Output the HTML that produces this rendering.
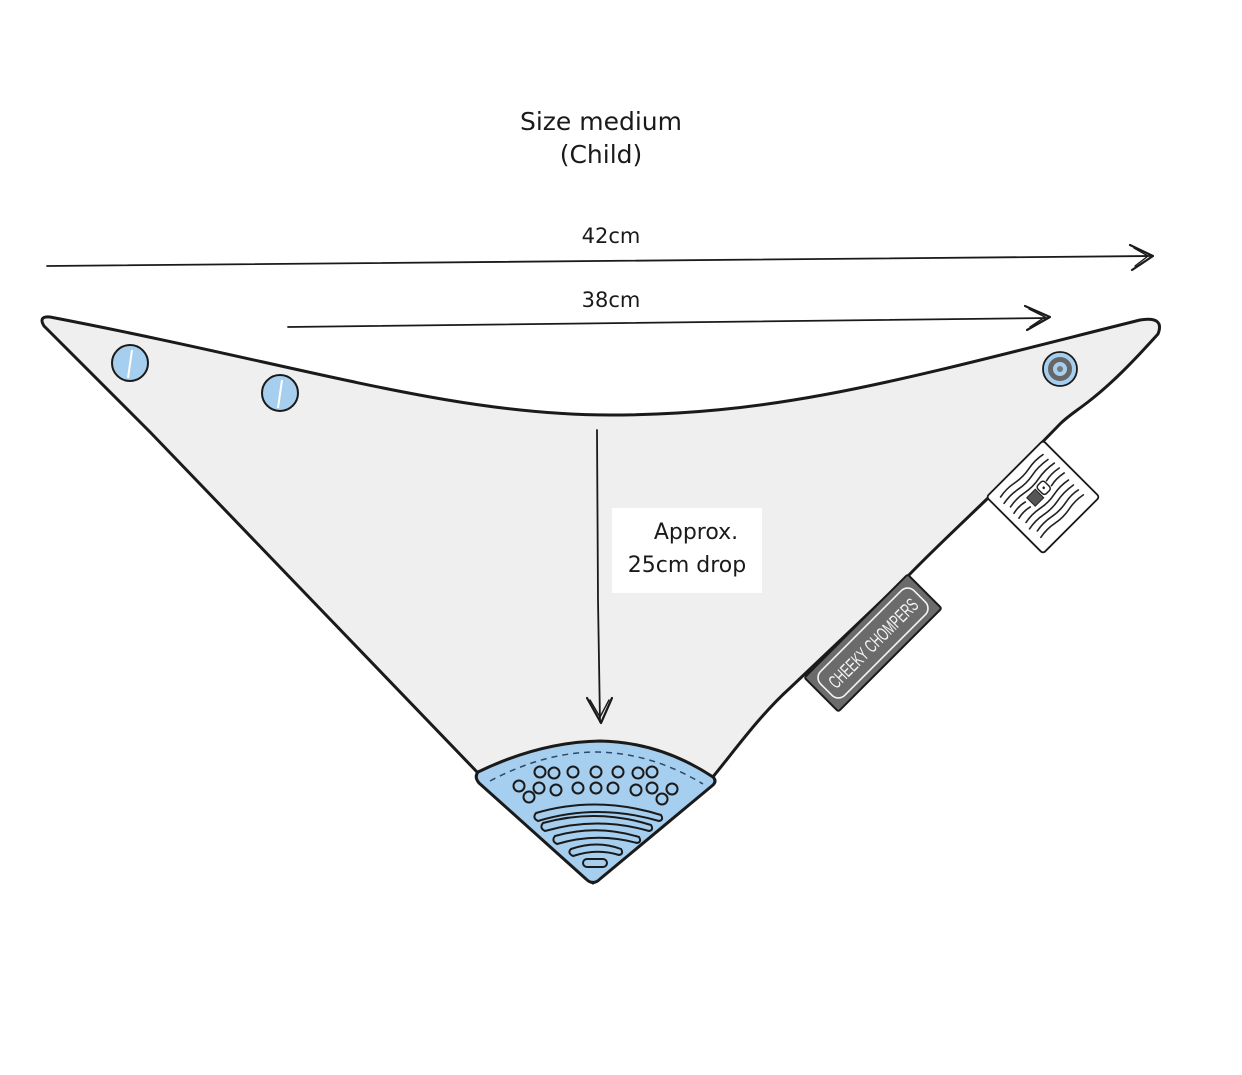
<!DOCTYPE html>
<html><head><meta charset="utf-8"><style>
html,body{margin:0;padding:0;background:#fff;}
svg{display:block;}
text{font-family:"DejaVu Sans","Liberation Sans",sans-serif;fill:#1a1a1a;}
</style></head><body>
<svg width="1242" height="1075" viewBox="0 0 1242 1075" xmlns="http://www.w3.org/2000/svg">
<rect width="1242" height="1075" fill="#fff"/>

<!-- Bib body -->
<path d="M 50,317 C 300,365 450,415 610,415 C 780,415 900,380 1140,320 Q 1165,316 1158,334 C 1130,365 1110,385 1088,402 C 1075,412 1068,416 1060,424 L 987,499 C 960,525 930,553 907,577 L 790,688 C 760,715 735,750 712,778 L 593,883 L 478,773 C 360,650 250,535 150,432 L 44,326 Q 38,316 50,317 Z"
 fill="#efefef" stroke="#1a1a1a" stroke-width="3" stroke-linejoin="round"/>

<!-- Care label -->
<g transform="translate(1043,497) rotate(-45)">
 <rect x="-40" y="-40" width="80" height="80" rx="3" fill="#fff" stroke="#1a1a1a" stroke-width="1.8"/>
 <g stroke="#222" stroke-width="1.6" fill="none" stroke-linecap="round">
  <path d="M -30,-30 q 10,-2 20,0 t 20,0 t 20,0"/>
  <path d="M -32,-23 q 10,-2 20,0 t 20,0 t 22,0"/>
  <path d="M -30,-16 q 10,-2 20,0 t 20,0 t 22,0"/>
  <path d="M -32,-9 q 8,-2 16,0"/>
  <path d="M 14,-9 q 8,-2 18,0"/>
  <path d="M -32,-2 q 8,-2 16,0"/>
  <path d="M 14,-2 q 8,-2 18,0"/>
  <path d="M -30,6 q 10,-2 20,0 t 20,0 t 20,0"/>
  <path d="M -32,13 q 10,-2 20,0 t 20,0 t 22,0"/>
  <path d="M -28,20 q 10,-2 20,0 t 20,0 t 18,0"/>
  <path d="M -30,27 q 10,-2 20,0 t 20,0 t 20,0"/>
 </g>
 <rect x="-12" y="-11" width="12" height="12" fill="#555" stroke="#222" stroke-width="1"/>
 <rect x="2" y="-12" width="10" height="12" rx="3" fill="#fff" stroke="#222" stroke-width="1.5"/>
 <circle cx="7" cy="-6" r="1.3" fill="#222"/>
</g>

<!-- Cheeky Chompers label -->
<g transform="translate(873,643) rotate(-45)">
 <rect x="-73" y="-24" width="146" height="48" rx="2" fill="#6b6b6b" stroke="#1a1a1a" stroke-width="2"/>
 <rect x="-66" y="-17" width="132" height="34" rx="9" fill="none" stroke="#f4f4f4" stroke-width="1.6"/>
 <text x="0" y="7" text-anchor="middle" font-size="19" textLength="118" lengthAdjust="spacingAndGlyphs" style="fill:#f4f4f4;font-family:'Liberation Sans Narrow','Liberation Sans',sans-serif;">CHEEKY CHOMPERS</text>
</g>

<!-- Blue tip -->
<path d="M 478,772 Q 540,742 600,741 Q 660,742 713,777 Q 717,781 713,785 L 600,879 Q 593,886 586,879 L 479,783 Q 474,777 478,772 Z"
 fill="#a6ceee" stroke="#1a1a1a" stroke-width="3" stroke-linejoin="round"/>
<path d="M 490,781 Q 545,752 597,752 Q 652,753 703,784" fill="none" stroke="#2a4a66" stroke-width="1.5" stroke-dasharray="6,5"/>
<g fill="none" stroke="#1a1a1a" stroke-width="2">
 <circle cx="540" cy="772" r="5.5"/><circle cx="554" cy="773" r="5.5"/><circle cx="573" cy="772" r="5.5"/>
 <circle cx="596" cy="772" r="5.5"/><circle cx="618" cy="772" r="5.5"/><circle cx="638" cy="773" r="5.5"/>
 <circle cx="652" cy="772" r="5.5"/>
 <circle cx="519" cy="786" r="5.5"/><circle cx="539" cy="788" r="5.5"/><circle cx="556" cy="790" r="5.5"/>
 <circle cx="578" cy="788" r="5.5"/><circle cx="596" cy="788" r="5.5"/><circle cx="613" cy="788" r="5.5"/>
 <circle cx="636" cy="790" r="5.5"/><circle cx="652" cy="788" r="5.5"/><circle cx="672" cy="789" r="5.5"/>
 <circle cx="529" cy="797" r="5.5"/><circle cx="662" cy="799" r="5.5"/>
 <path d="M 536,813 Q 597,795 661,815 Q 664,820 659,821 Q 597,803 538,821 Q 532,818 536,813 Z"/>
 <path d="M 543,823 Q 597,808 651,825 Q 654,830 649,831 Q 597,816 545,831 Q 539,828 543,823 Z"/>
 <path d="M 555,836 Q 597,824 639,837 Q 642,842 637,843 Q 597,832 557,844 Q 551,841 555,836 Z"/>
 <path d="M 571,849 Q 597,840 621,849 Q 624,854 619,855 Q 597,848 573,856 Q 567,853 571,849 Z"/>
 <rect x="583" y="859" width="24" height="8" rx="4"/>
</g>

<!-- Snaps -->
<circle cx="130" cy="363" r="18" fill="#a6ceee" stroke="#1a1a1a" stroke-width="2"/>
<line x1="132" y1="350" x2="128" y2="378" stroke="#fff" stroke-width="2"/>
<circle cx="280" cy="393" r="18" fill="#a6ceee" stroke="#1a1a1a" stroke-width="2"/>
<line x1="282" y1="380" x2="278" y2="408" stroke="#fff" stroke-width="2"/>
<circle cx="1060" cy="369" r="17" fill="#a6ceee" stroke="#1a1a1a" stroke-width="1.8"/>
<circle cx="1060" cy="369" r="9.5" fill="none" stroke="#666" stroke-width="5"/>
<circle cx="1060" cy="369" r="6" fill="#a6ceee"/>
<circle cx="1060" cy="369" r="3" fill="#777"/>

<!-- Arrows -->
<g fill="none" stroke="#1a1a1a" stroke-linecap="round" stroke-linejoin="round">
 <path d="M 47,266 L 1150,256" stroke-width="1.8"/>
 <path d="M 1130,245 L 1153,256 L 1132,270" stroke-width="2.2"/>
 <path d="M 1134,248 L 1148,256 L 1135,266" stroke-width="1.4"/>
 <path d="M 288,327 L 1048,318" stroke-width="1.8"/>
 <path d="M 1025,306 L 1050,317 L 1027,330" stroke-width="2.2"/>
 <path d="M 1029,309 L 1045,317 L 1030,327" stroke-width="1.4"/>
 <path d="M 597,430 L 598,600 L 600,722" stroke-width="1.8"/>
 <path d="M 587,698 L 601,723 L 612,698" stroke-width="2.2"/>
 <path d="M 590,700 L 600,717 L 609,700" stroke-width="1.4"/>
</g>

<!-- Drop label -->
<rect x="612" y="508" width="150" height="85" fill="#fff"/>
<text x="696" y="539" text-anchor="middle" font-size="22">Approx.</text>
<text x="687" y="572" text-anchor="middle" font-size="22">25cm drop</text>

<!-- Titles -->
<text x="601" y="130" text-anchor="middle" font-size="25">Size medium</text>
<text x="601" y="163" text-anchor="middle" font-size="25">(Child)</text>
<text x="611" y="243" text-anchor="middle" font-size="21">42cm</text>
<text x="611" y="307" text-anchor="middle" font-size="21">38cm</text>
</svg>
</body></html>
